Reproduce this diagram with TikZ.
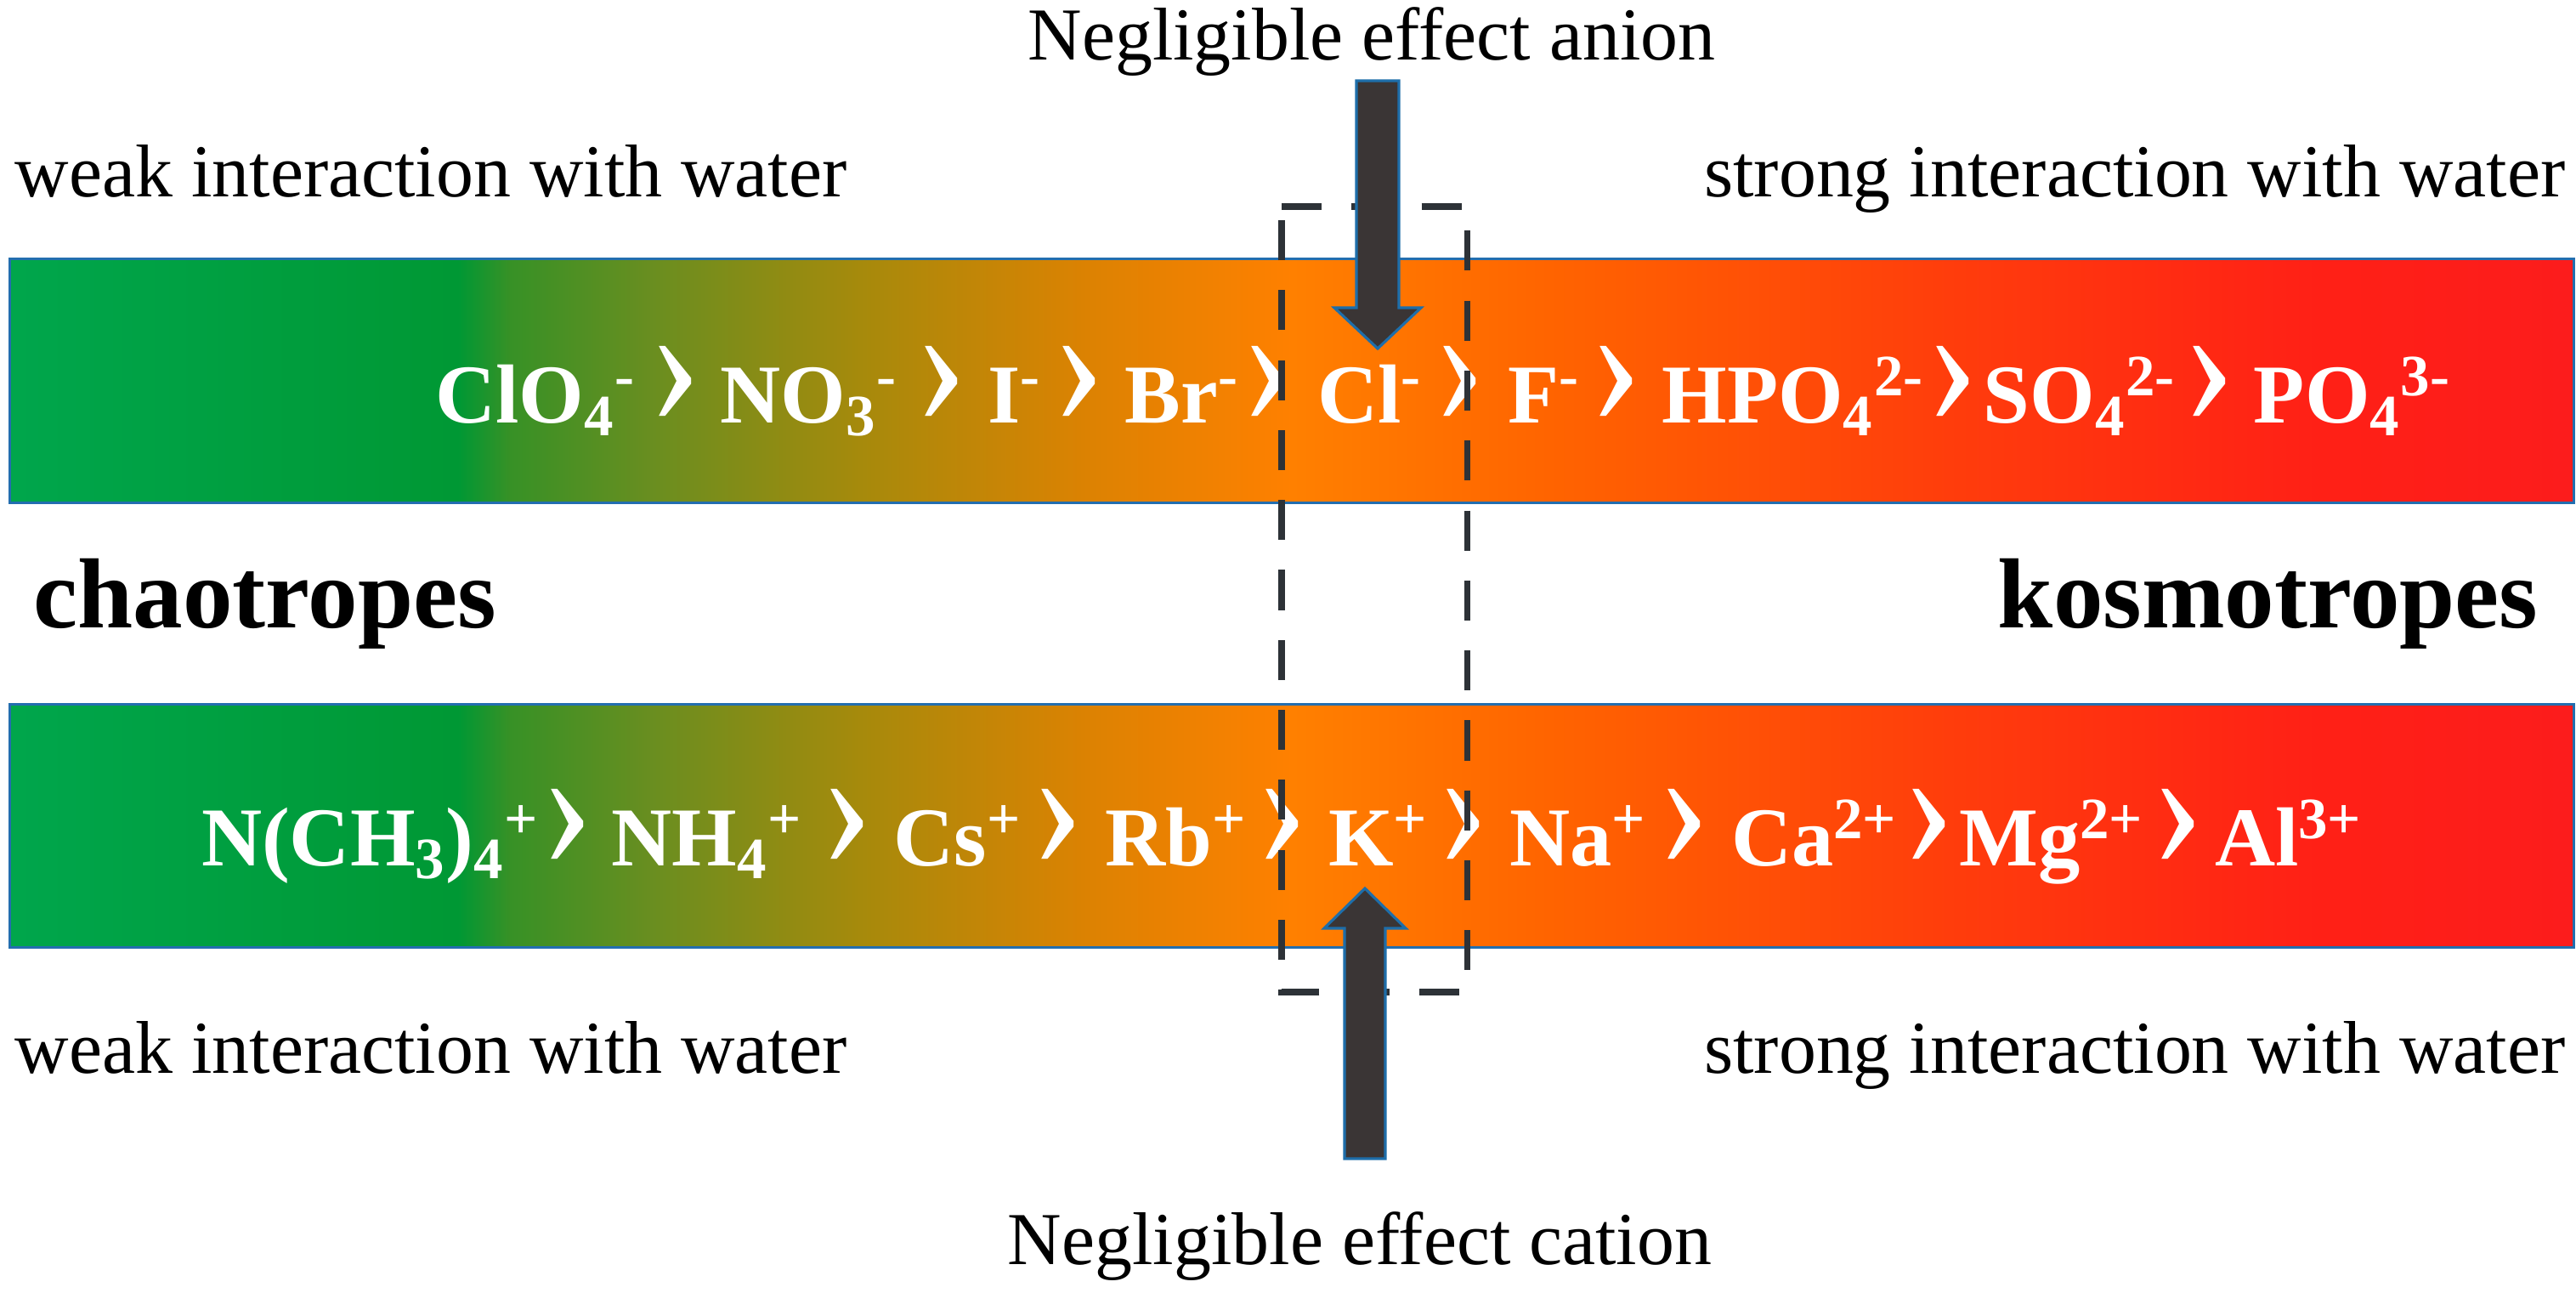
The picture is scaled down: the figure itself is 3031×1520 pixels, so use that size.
\documentclass[tikz,border=0pt]{standalone}
\usepackage{fontspec}
\setmainfont{Liberation Serif}
\usetikzlibrary{calc}
\definecolor{c0}{RGB}{0,166,76}
\definecolor{c1}{RGB}{0,152,52}
\definecolor{c2}{RGB}{55,145,38}
\definecolor{c3}{RGB}{105,142,32}
\definecolor{c4}{RGB}{165,138,12}
\definecolor{c5}{RGB}{220,130,2}
\definecolor{c6}{RGB}{255,128,0}
\definecolor{c7}{RGB}{255,100,0}
\definecolor{c8}{RGB}{255,60,12}
\definecolor{c9}{RGB}{255,32,22}
\definecolor{c10}{RGB}{252,28,28}
\definecolor{barblue}{RGB}{35,110,175}
\definecolor{arrowgray}{RGB}{58,53,53}
\definecolor{arrowblue}{RGB}{30,110,170}
\definecolor{dashgray}{RGB}{45,50,55}
\pgfdeclarehorizontalshading{barshade}{100bp}{color(0bp)=(c0); color(25bp)=(c0); color(33.75bp)=(c1); color(34.75bp)=(c2); color(37.5bp)=(c3); color(41.5bp)=(c4); color(46bp)=(c5); color(50bp)=(c6); color(55bp)=(c7); color(63bp)=(c8); color(70bp)=(c9); color(75bp)=(c10); color(100bp)=(c10)}
\newcommand\chev{\scalebox{1.9}[2.2]{\fontsize{28}{34}\selectfont\mdseries ›}}
\tikzset{
  bar/.style={draw=barblue, line width=0.9pt, shading=barshade, inner sep=0pt, anchor=north west},
  lbl/.style={anchor=base, inner sep=0pt, font=\fontsize{25}{30}\selectfont},
  big/.style={anchor=base, inner sep=0pt, font=\fontsize{33.3}{40}\selectfont\bfseries},
  ion/.style={anchor=base, inner sep=0pt, text=white, font=\fontsize{28}{34}\selectfont\bfseries},
  sepr/.style={anchor=base, inner sep=0pt, text=white},
  blockarrow/.style={fill=arrowgray, draw=arrowblue, line width=0.9pt, line join=miter},
  boxarea/.style={inner sep=0pt, anchor=north west},
  dashline/.style={draw=dashgray, line width=2.2pt, dash pattern=on 13.4pt off 10pt}
}
\begin{document}
\begin{tikzpicture}[x=0.01cm,y=-0.01cm]
\useasboundingbox (0,0) rectangle (3031,1520);
\fill[white] (0,0) rectangle (3031,1520);

% bars
\node[bar, minimum width=30.15cm, minimum height=2.87cm] (topbar) at (10,303) {};
\node[bar, minimum width=30.15cm, minimum height=2.86cm] (botbar) at (10,827) {};

% labels
\node[lbl] (anion) at (1614,70) {Negligible effect anion};
\node[lbl] (cation) at (1600,1487) {Negligible effect cation};
\node[lbl, anchor=base west] (wt) at (17,231) {weak interaction with water};
\node[lbl, anchor=base east] (st) at (3019,231) {strong interaction with water};
\node[lbl, anchor=base west] (wb) at (17,1262) {weak interaction with water};
\node[lbl, anchor=base east] (sb) at (3019,1262) {strong interaction with water};
\node[big, anchor=base west] (chao) at (39,738) {chaotropes};
\node[big, anchor=base east] (kosmo) at (2987,738) {kosmotropes};

% anion row
\node[ion] (a1) at (630,497) {ClO\textsubscript{4}\textsuperscript{-}};
\node[sepr] (s1) at (795,497) {\chev};
\node[ion] (a2) at (952,497) {NO\textsubscript{3}\textsuperscript{-}};
\node[sepr] (s2) at (1108,497) {\chev};
\node[ion] (a3) at (1194,497) {I\textsuperscript{-}};
\node[sepr] (s3) at (1270,497) {\chev};
\node[ion] (a4) at (1391,497) {Br\textsuperscript{-}};
\node[sepr] (s4) at (1492,497) {\chev};
\node[ion] (a5) at (1612,497) {Cl\textsuperscript{-}};
\node[sepr] (s5) at (1718,497) {\chev};
\node[ion] (a6) at (1817,497) {F\textsuperscript{-}};
\node[sepr] (s6) at (1902,497) {\chev};
\node[ion] (a7) at (2110,497) {HPO\textsubscript{4}\textsuperscript{2-}};
\node[sepr] (s7) at (2298,497) {\chev};
\node[ion] (a8) at (2447,497) {SO\textsubscript{4}\textsuperscript{2-}};
\node[sepr] (s8) at (2600,497) {\chev};
\node[ion] (a9) at (2768,497) {PO\textsubscript{4}\textsuperscript{3-}};

% cation row
\node[ion] (k1) at (436,1018) {N(CH\textsubscript{3})\textsubscript{4}\textsuperscript{+}};
\node[sepr] (r1) at (668,1018) {\chev};
\node[ion] (k2) at (832,1018) {NH\textsubscript{4}\textsuperscript{+}};
\node[sepr] (r2) at (997,1018) {\chev};
\node[ion] (k3) at (1127,1018) {Cs\textsuperscript{+}};
\node[sepr] (r3) at (1245,1018) {\chev};
\node[ion] (k4) at (1384,1018) {Rb\textsuperscript{+}};
\node[sepr] (r4) at (1509,1018) {\chev};
\node[ion] (k5) at (1622,1018) {K\textsuperscript{+}};
\node[sepr] (r5) at (1722,1018) {\chev};
\node[ion] (k6) at (1857,1018) {Na\textsuperscript{+}};
\node[sepr] (r6) at (1982,1018) {\chev};
\node[ion] (k7) at (2135,1018) {Ca\textsuperscript{2+}};
\node[sepr] (r7) at (2270,1018) {\chev};
\node[ion] (k8) at (2414,1018) {Mg\textsuperscript{2+}};
\node[sepr] (r8) at (2563,1018) {\chev};
\node[ion] (k9) at (2693,1018) {Al\textsuperscript{3+}};

% dashed box
\node[boxarea, minimum width=2.17cm, minimum height=9.22cm] (nbox) at (1508,243) {};
\draw[dashline] (nbox.north west) -- (nbox.north east) -- (nbox.south east) -- (nbox.south west) -- cycle;

% block arrows
\coordinate (aTs) at (1621,95);
\coordinate (aTt) at (1621,410);
\filldraw[blockarrow] ($(aTs)+(-25,0)$) -- ($(aTs)+(25,0)$) -- ($(aTt)+(25,-48)$) -- ($(aTt)+(51,-48)$) -- (aTt) -- ($(aTt)+(-51,-48)$) -- ($(aTt)+(-25,-48)$) -- cycle;
\coordinate (aBs) at (1606,1363);
\coordinate (aBt) at (1606,1045);
\filldraw[blockarrow] ($(aBs)+(-24,0)$) -- ($(aBs)+(24,0)$) -- ($(aBt)+(24,47)$) -- ($(aBt)+(48,47)$) -- (aBt) -- ($(aBt)+(-48,47)$) -- ($(aBt)+(-24,47)$) -- cycle;
\end{tikzpicture}
\end{document}
